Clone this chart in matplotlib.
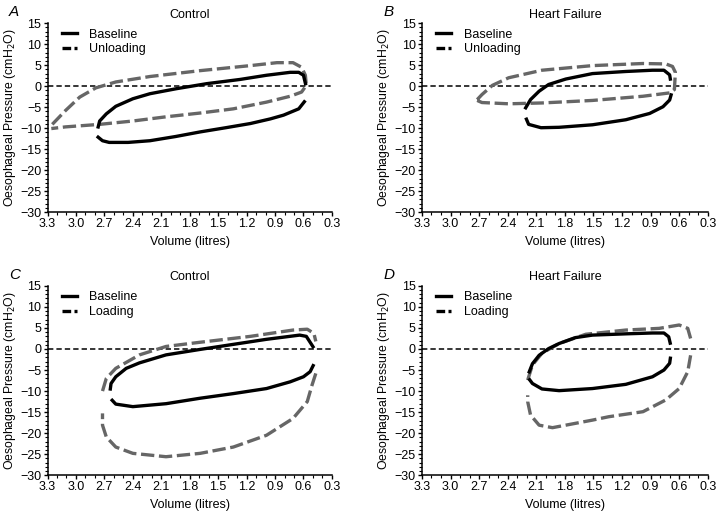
import numpy as np
import matplotlib.pyplot as plt
from matplotlib.ticker import MultipleLocator

plt.rcParams['font.family'] = ['Liberation Sans', 'DejaVu Sans']

# ---- data (volume in litres, pressure in cmH2O) ----
# A: control, baseline vs unloading
A_base_lo_v = [2.78, 2.72, 2.65, 2.45, 2.22, 1.95, 1.69, 1.42, 1.16, 0.95, 0.81, 0.65, 0.58]
A_base_lo_p = [-11.9, -13.0, -13.4, -13.4, -13.0, -12.0, -10.9, -9.9, -8.9, -7.8, -6.9, -5.4, -3.4]
A_base_up_v = [0.575, 0.60, 0.65, 0.74, 0.99, 1.27, 1.62, 1.94, 2.22, 2.40, 2.58, 2.68, 2.75, 2.77]
A_base_up_p = [0.2, 2.6, 3.3, 3.3, 2.6, 1.6, 0.6, -0.6, -1.8, -3.0, -4.8, -6.6, -8.3, -10.1]
A_unl_v = [3.25, 3.11, 2.96, 2.79, 2.58, 2.22, 1.69, 1.16, 0.88, 0.71, 0.62, 0.58, 0.57,
           0.62, 0.74, 0.99, 1.34, 1.69, 2.05, 2.40, 2.75, 3.11, 3.26]
A_unl_p = [-9.1, -5.8, -2.6, -0.4, 1.0, 2.3, 3.7, 4.9, 5.6, 5.6, 4.5, 2.6, 0.2,
           -1.4, -2.4, -3.8, -5.4, -6.4, -7.3, -8.3, -9.1, -9.7, -10.1]

# B: heart failure, baseline vs unloading
B_base_lo_v = [2.21, 2.18, 2.05, 1.86, 1.51, 1.16, 0.91, 0.77, 0.70, 0.68]
B_base_lo_p = [-7.5, -9.1, -9.9, -9.8, -9.2, -8.0, -6.5, -4.9, -3.3, -1.7]
B_base_up_v = [0.69, 0.70, 0.76, 0.88, 1.16, 1.51, 1.79, 1.97, 2.07, 2.16, 2.22]
B_base_up_p = [1.3, 2.7, 3.8, 3.8, 3.5, 3.0, 1.7, 0.4, -1.2, -3.2, -5.5]
B_unl_v = [2.72, 2.67, 2.56, 2.39, 2.04, 1.51, 0.98, 0.74, 0.67, 0.64,
           0.65, 0.70, 0.98, 1.51, 2.04, 2.39, 2.67, 2.72]
B_unl_p = [-3.2, -2.0, 0.2, 2.0, 3.8, 4.9, 5.4, 5.3, 4.7, 3.3,
           -0.8, -1.6, -2.4, -3.4, -4.0, -4.2, -3.9, -3.4]

# C: control, baseline vs loading
C_base_lo_v = [2.63, 2.58, 2.40, 2.05, 1.69, 1.34, 0.99, 0.74, 0.60, 0.53, 0.49]
C_base_lo_p = [-11.9, -13.1, -13.7, -13.0, -11.7, -10.6, -9.4, -7.8, -6.6, -5.4, -3.6]
C_base_up_v = [0.49, 0.53, 0.57, 0.64, 0.99, 1.34, 1.69, 2.05, 2.33, 2.47, 2.58, 2.63, 2.64]
C_base_up_p = [0.2, 1.6, 3.0, 3.3, 2.3, 1.1, -0.1, -1.4, -3.3, -4.6, -6.6, -8.2, -9.9]
C_load_up_v = [2.72, 2.68, 2.58, 2.33, 2.05, 1.69, 1.16, 0.71, 0.56, 0.49, 0.47]
C_load_up_p = [-10.0, -7.0, -4.6, -1.4, 0.6, 1.6, 3.0, 4.5, 4.7, 3.7, 1.8]
C_load_lo_v = [0.47, 0.51, 0.56, 0.71, 0.99, 1.34, 1.69, 2.05, 2.40, 2.58, 2.68, 2.72, 2.72]
C_load_lo_p = [-5.8, -8.6, -12.5, -16.5, -20.5, -23.3, -24.8, -25.6, -24.8, -23.3, -20.9, -18.1, -15.3]

# D: heart failure, baseline vs loading
D_base_lo_v = [2.18, 2.14, 2.04, 1.86, 1.51, 1.16, 0.88, 0.76, 0.70, 0.69]
D_base_lo_p = [-7.0, -8.2, -9.5, -9.9, -9.4, -8.4, -6.6, -5.0, -3.4, -1.8]
D_base_up_v = [0.69, 0.71, 0.76, 0.88, 1.16, 1.51, 1.69, 1.86, 1.97, 2.07, 2.14, 2.18]
D_base_up_p = [1.0, 2.9, 3.8, 3.8, 3.6, 3.3, 2.7, 1.3, 0.1, -1.5, -3.5, -5.8]
D_load_up_v = [2.19, 2.14, 2.04, 1.86, 1.58, 1.16, 0.81, 0.60, 0.51, 0.48]
D_load_up_p = [-7.4, -3.8, -1.0, 1.3, 3.5, 4.5, 4.9, 5.7, 4.9, 2.5]
D_load_lo_v = [0.48, 0.51, 0.60, 0.74, 0.98, 1.34, 1.51, 1.79, 1.93, 2.07, 2.16, 2.19, 2.19]
D_load_lo_p = [-1.5, -5.4, -9.4, -12.1, -14.9, -16.1, -16.9, -18.1, -18.7, -18.1, -15.7, -12.5, -11.0]

xticks = [3.3, 3.0, 2.7, 2.4, 2.1, 1.8, 1.5, 1.2, 0.9, 0.6, 0.3]
yticks = [15, 10, 5, 0, -5, -10, -15, -20, -25, -30]

gray = '#666666'
fs = 9


def panel(ax, letter, title, base, other, other_label):
    ax.axhline(0, color='black', lw=1.1, ls=(0, (3.5, 2.0)), zorder=1)
    for v, p in base:
        ax.plot(v, p, color='black', lw=2.4, solid_capstyle='butt', zorder=3)
    for v, p in other:
        ax.plot(v, p, color=gray, lw=2.4, ls=(0, (4.0, 1.4)), zorder=2)
    ax.set_xlim(3.3, 0.3)
    ax.set_ylim(-30, 15)
    ax.set_xticks(xticks)
    ax.set_xticklabels([f'{t:.1f}' for t in xticks])
    ax.set_yticks(yticks)
    ax.xaxis.set_minor_locator(MultipleLocator(0.1))
    ax.yaxis.set_minor_locator(MultipleLocator(1))
    ax.tick_params(which='major', length=3, width=1, labelsize=fs, pad=1.5, direction='out')
    ax.tick_params(which='minor', length=2, width=0.8, direction='out')
    for s in ['top', 'right']:
        ax.spines[s].set_visible(False)
    for s in ['left', 'bottom']:
        ax.spines[s].set_linewidth(1.1)
    ax.set_xlabel('Volume (litres)', fontsize=fs, labelpad=4)
    ax.set_ylabel('Oesophageal Pressure (cmH$_2$O)', fontsize=8.8, labelpad=1.5)
    ax.set_title(title, fontsize=fs, pad=4)
    ax.text(-0.135, 1.06, letter, transform=ax.transAxes, fontsize=11,
            fontstyle='italic', ha='left', va='center')
    h1, = ax.plot([], [], color='black', lw=2.4)
    h2, = ax.plot([], [], color='black', lw=2.4, ls=(0, (2.6, 1.0, 1.1, 1.0)))
    ax.legend([h1, h2], ['Baseline', other_label], loc='upper left',
              bbox_to_anchor=(0.01, 1.03), frameon=False, fontsize=fs,
              handlelength=1.2, handletextpad=1.0, labelspacing=0.2)


fig = plt.figure(figsize=(7.2, 5.16), dpi=100)
axA = fig.add_axes([0.066, 0.589, 0.395, 0.366])
axB = fig.add_axes([0.586, 0.589, 0.397, 0.366])
axC = fig.add_axes([0.066, 0.079, 0.395, 0.367])
axD = fig.add_axes([0.586, 0.079, 0.397, 0.367])

panel(axA, 'A', 'Control',
      [(A_base_lo_v, A_base_lo_p), (A_base_up_v, A_base_up_p)],
      [(A_unl_v, A_unl_p)], 'Unloading')
panel(axB, 'B', 'Heart Failure',
      [(B_base_lo_v, B_base_lo_p), (B_base_up_v, B_base_up_p)],
      [(B_unl_v, B_unl_p)], 'Unloading')
panel(axC, 'C', 'Control',
      [(C_base_lo_v, C_base_lo_p), (C_base_up_v, C_base_up_p)],
      [(C_load_up_v, C_load_up_p), (C_load_lo_v, C_load_lo_p)], 'Loading')
panel(axD, 'D', 'Heart Failure',
      [(D_base_lo_v, D_base_lo_p), (D_base_up_v, D_base_up_p)],
      [(D_load_up_v, D_load_up_p), (D_load_lo_v, D_load_lo_p)], 'Loading')

fig.savefig('out.png', dpi=100)
